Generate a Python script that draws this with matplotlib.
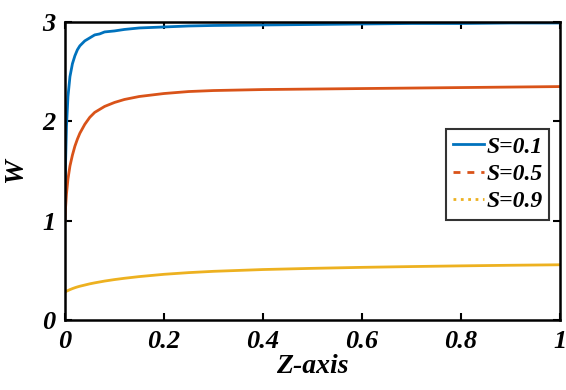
import matplotlib.pyplot as plt
from matplotlib.lines import Line2D

# values
z = [0.0, 0.001, 0.003, 0.006, 0.01, 0.015, 0.02, 0.025, 0.03, 0.04, 0.05, 0.06, 0.07, 0.08, 0.1, 0.12, 0.15, 0.2, 0.25, 0.3, 0.4, 0.5, 0.6, 0.7, 0.8, 0.9, 1.0]
w_s01 = [1.0, 1.55, 1.95, 2.25, 2.45, 2.58, 2.66, 2.72, 2.76, 2.81, 2.84, 2.87, 2.88, 2.9, 2.91, 2.925, 2.94, 2.95, 2.96, 2.965, 2.97, 2.975, 2.98, 2.985, 2.985, 2.99, 2.99]
w_s05 = [1.0, 1.12, 1.27, 1.42, 1.55, 1.66, 1.75, 1.82, 1.88, 1.97, 2.04, 2.09, 2.12, 2.15, 2.19, 2.22, 2.25, 2.28, 2.30, 2.31, 2.32, 2.325, 2.33, 2.335, 2.34, 2.345, 2.35]
w_s09 = [0.28, 0.283, 0.29, 0.297, 0.306, 0.316, 0.325, 0.333, 0.34, 0.352, 0.364, 0.374, 0.383, 0.392, 0.407, 0.42, 0.437, 0.46, 0.477, 0.49, 0.508, 0.52, 0.53, 0.538, 0.545, 0.551, 0.556]
labels = ["S=0.1", "S=0.5", "S=0.9"]
colors = ['#0072BD', '#D95319', '#EDB120']

plt.rcParams['font.family'] = 'Liberation Serif'
plt.rcParams['font.weight'] = 'bold'
plt.rcParams['font.style'] = 'italic'
plt.rcParams['axes.labelweight'] = 'bold'

fig = plt.figure(figsize=(5.66, 3.9), dpi=100)
ax = fig.add_axes([65/566, 1 - 320/390, 495/566, 298/390])

ax.plot(z, w_s01, color=colors[0], lw=2)
ax.plot(z, w_s05, color=colors[1], lw=2)
ax.plot(z, w_s09, color=colors[2], lw=2)

ax.set_xlim(0, 1)
ax.set_ylim(0, 3)
ax.set_xticks([0, 0.2, 0.4, 0.6, 0.8, 1])
ax.set_xticklabels(['0', '0.2', '0.4', '0.6', '0.8', '1'])
ax.set_yticks([0, 1, 2, 3])
ax.tick_params(direction='in', top=True, right=True, length=5, width=1.5, labelsize=19, pad=7)
for s in ax.spines.values():
    s.set_linewidth(1.8)

ax.set_xlabel('Z-axis', fontsize=20, fontweight='bold', labelpad=1)
ax.set_ylabel('W', fontsize=20, fontweight='bold', labelpad=10)

handles = [Line2D([], [], color=colors[0], lw=2, ls='-'),
           Line2D([], [], color=colors[1], lw=2, ls=(0, (2.5, 2.5))),
           Line2D([], [], color=colors[2], lw=2, ls=':')]
leg = ax.legend(handles, labels, loc='upper left', bbox_to_anchor=(381/495, 1 - 107/298),
                fontsize=17, frameon=True, fancybox=False, edgecolor='black',
                handlelength=1.3, handletextpad=0.1, borderpad=0.3, labelspacing=0.25,
                borderaxespad=0)
leg.get_frame().set_linewidth(1.5)

fig.savefig('out.png', dpi=100)
